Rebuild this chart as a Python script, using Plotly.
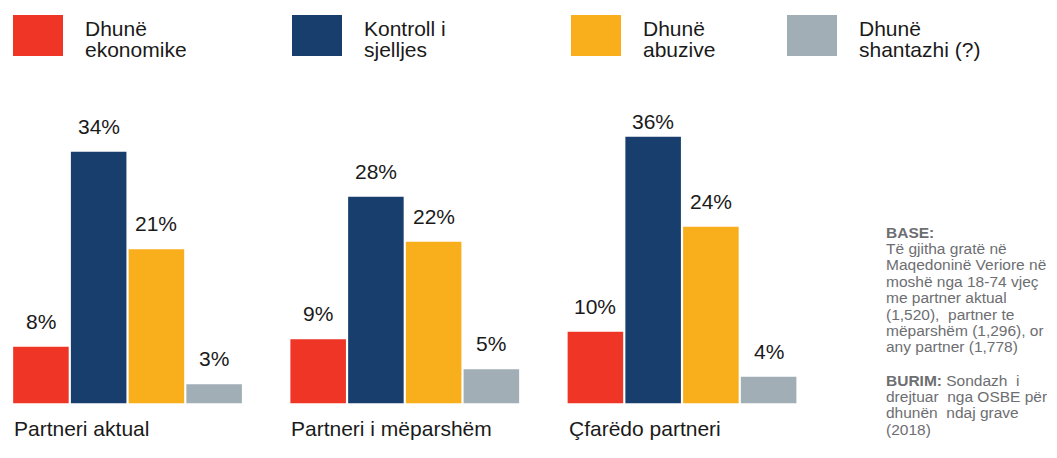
import plotly.graph_objects as go

# ---------------- data ----------------
categories = ["Partneri aktual", "Partneri i mëparshëm", "Çfarëdo partneri"]
series_names = ["Dhunë<br>ekonomike", "Kontroll i<br>sjelljes", "Dhunë<br>abuzive", "Dhunë<br>shantazhi (?)"]
economic = [8, 9, 10]
control = [34, 28, 36]
abusive = [21, 22, 24]
blackmail = [3, 5, 4]
series_values = [economic, control, abusive, blackmail]
colors = ["#EE3526", "#183E6E", "#F9AE1B", "#A2AEB6"]

base_lines = ["<b>BASE:</b>", "Të gjitha gratë në", "Maqedoninë Veriore në", "moshë nga 18-74 vjeç",
              "me partner aktual", "(1,520),  partner te", "mëparshëm (1,296), or", "any partner (1,778)"]
source_lines = ["<b>BURIM:</b> Sondazh  i", "drejtuar  nga OSBE për", "dhunën  ndaj grave", "(2018)"]

# ---------------- layout constants ----------------
W, H = 1057, 458
FONT = "Liberation Sans, Arial, sans-serif"
X_RANGE = [-0.460, 2.642]
X_DOMAIN_PX = 860
Y_RANGE = [0.45, 40.9]
PLOT_TOP_PX, PLOT_BOTTOM_PX = 100, 403.3
BARGAP = 0.167
BARGROUPGAP = 0.038
LABEL_CAP = 34.6

slot_px = X_DOMAIN_PX / (X_RANGE[1] - X_RANGE[0])
pitch_px = slot_px * (1 - BARGAP) / len(series_values)


def pxx(p):
    return p / W


def pxy(p):
    return 1 - p / H


fig = go.Figure()
for name, vals, col in zip(series_names, series_values, colors):
    fig.add_trace(go.Bar(
        x=list(range(len(categories))), y=vals, name=name.replace("<br>", " "),
        marker=dict(color=col, line=dict(width=0)), showlegend=False,
        hoverinfo="y",
    ))

annotations = []
shapes = []
# value labels
for j, vals in enumerate(series_values):
    for i, v in enumerate(vals):
        annotations.append(dict(
            x=i, y=min(v, LABEL_CAP), xref="x", yref="y",
            xshift=(j - (len(series_values) - 1) / 2) * pitch_px, yshift=12,
            text=f"{v}%", showarrow=False, xanchor="center", yanchor="bottom",
            font=dict(family=FONT, size=21, color="#1a1a1a"),
        ))
# category labels (left aligned with first bar)
for i, c in enumerate(categories):
    annotations.append(dict(
        x=i, y=pxy(428), xref="x", yref="paper",
        xshift=-(slot_px * (1 - BARGAP) / 2) + pitch_px * BARGROUPGAP / 2 - 1,
        text=c, showarrow=False, xanchor="left", yanchor="middle",
        font=dict(family=FONT, size=21, color="#1a1a1a"),
    ))

# custom legend
legend_box_x = [13, 292, 571, 787]
legend_text_x = [84, 363, 642, 858]
for name, col, bx, tx in zip(series_names, colors, legend_box_x, legend_text_x):
    shapes.append(dict(type="rect", xref="paper", yref="paper",
                       x0=pxx(bx), x1=pxx(bx + 50), y0=pxy(56), y1=pxy(15),
                       fillcolor=col, line=dict(width=0)))
    for k, line in enumerate(name.split("<br>")):
        annotations.append(dict(
            x=pxx(tx), y=pxy(29.2 + 21 * k), xref="paper", yref="paper",
            text=line, showarrow=False, xanchor="left", yanchor="middle",
            height=21, valign="bottom", borderpad=0,
            font=dict(family=FONT, size=21, color="#1a1a1a"),
        ))

# notes on the right
NOTE_X = 885
for k, line in enumerate(base_lines):
    annotations.append(dict(
        x=pxx(NOTE_X), y=pxy(232.6 + 16.4 * k), xref="paper", yref="paper",
        text=line, showarrow=False, xanchor="left", yanchor="middle",
        height=16, valign="bottom", borderpad=0,
        font=dict(family=FONT, size=15.5, color="#6d6e71"),
    ))
for k, line in enumerate(source_lines):
    annotations.append(dict(
        x=pxx(NOTE_X), y=pxy(380.6 + 16.3 * k), xref="paper", yref="paper",
        text=line, showarrow=False, xanchor="left", yanchor="middle",
        height=16, valign="bottom", borderpad=0,
        font=dict(family=FONT, size=15.5, color="#6d6e71"),
    ))

fig.update_layout(
    width=W, height=H, autosize=False,
    margin=dict(l=0, r=0, t=0, b=0, pad=0),
    paper_bgcolor="white", plot_bgcolor="white",
    barmode="group", bargap=BARGAP, bargroupgap=BARGROUPGAP,
    xaxis=dict(domain=[0, X_DOMAIN_PX / W], range=X_RANGE, visible=False, fixedrange=True),
    yaxis=dict(domain=[1 - PLOT_BOTTOM_PX / H, 1 - PLOT_TOP_PX / H], range=Y_RANGE,
               visible=False, fixedrange=True),
    annotations=annotations, shapes=shapes,
    font=dict(family=FONT),
)

fig.write_html(
    "out.html",
    config={"displayModeBar": False},
    post_script="document.body.style.margin='0';document.body.style.overflow='hidden';",
)
